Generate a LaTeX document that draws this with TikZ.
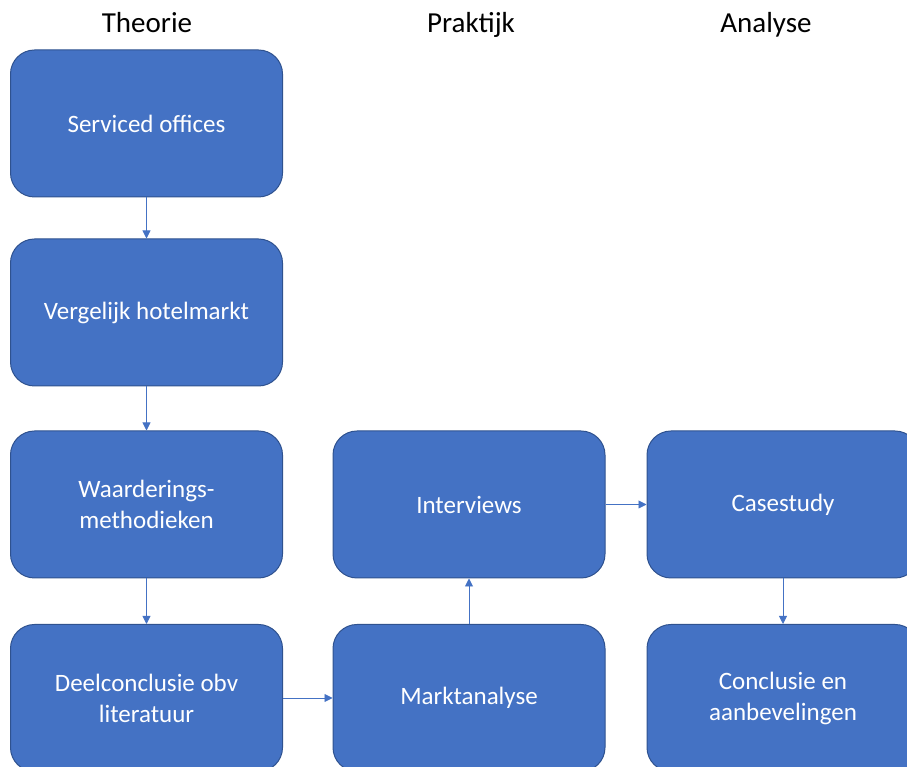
\documentclass[tikz,border=0pt]{standalone}
\usepackage{fontspec}
\setmainfont{Carlito}
\usetikzlibrary{positioning,arrows.meta}
\definecolor{blokblauw}{RGB}{68,114,196}
\definecolor{blokrand}{RGB}{47,82,143}
\tikzset{
  blok/.style={rectangle,rounded corners=24pt,draw=blokrand,fill=blokblauw,
               text=white,font=\fontsize{25}{31}\selectfont,align=center,
               minimum width=272pt,minimum height=147pt,line width=1pt},
  pijl/.style={draw=blokblauw,line width=0.9pt,-{Triangle[length=8pt,width=8pt]}},
  kop/.style={font=\fontsize{29}{34}\selectfont,anchor=base}
}

\begin{document}
\begin{tikzpicture}[x=1pt,y=1pt]
\useasboundingbox (0,0) rectangle (907,767);
% kolomkoppen
\node[kop] (theorie) at (147,734) {Theorie};
\node[kop] (praktijk) at (471,734) {Praktijk};
\node[kop] (analyse) at (766,734) {Analyse};
% theorie
\node[blok] (offices) at (146.5,643.5) {Serviced offices};
\node[blok] (hotel) at (146.5,454.5) {Vergelijk hotelmarkt};
\node[blok] (waardering) at (146.5,262.5) {Waarderings-\\methodieken};
\node[blok] (deelconclusie) at (146.5,69) {Deelconclusie obv\\literatuur};
% praktijk
\node[blok] (interviews) at (469,262.5) {Interviews};
\node[blok] (markt) at (469,69) {Marktanalyse};
% analyse
\node[blok] (casestudy) at (783,262.5) {Casestudy};
\node[blok] (conclusie) at (783,69) {Conclusie en\\aanbevelingen};
% pijlen
\draw[pijl] (offices) -- (hotel);
\draw[pijl] (hotel) -- (waardering);
\draw[pijl] (waardering) -- (deelconclusie);
\draw[pijl] (deelconclusie) -- (markt);
\draw[pijl] (markt) -- (interviews);
\draw[pijl] (interviews) -- (casestudy);
\draw[pijl] (casestudy) -- (conclusie);
\end{tikzpicture}
\end{document}
